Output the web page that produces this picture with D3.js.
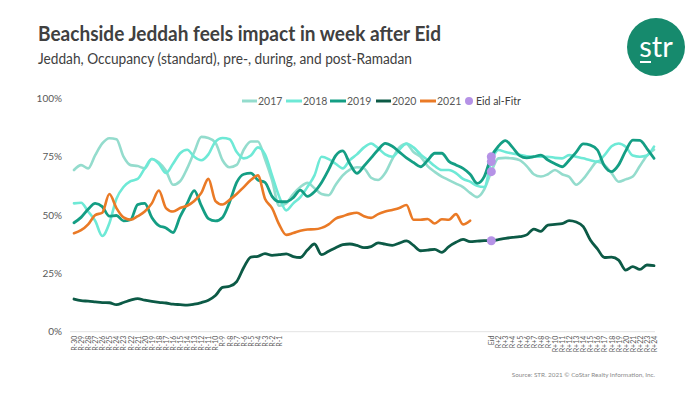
<!DOCTYPE html>
<html><head><meta charset="utf-8">
<script src="https://cdn.jsdelivr.net/npm/d3@7"></script>
<style>body{margin:0;background:#fff}svg{display:block}</style>
</head><body>
<svg id="c" width="700" height="394"></svg>
<script>
const preLabels = ["R-30","R-29","R-28","R-27","R-26","R-25","R-24","R-23","R-22","R-21","R-20","R-19","R-18","R-17","R-16","R-15","R-14","R-13","R-12","R-11","R-10","R-9","R-8","R-7","R-6","R-5","R-4","R-3","R-2","R-1"];
const ramadanDays = ["D1","D2","D3","D4","D5","D6","D7","D8","D9","D10","D11","D12","D13","D14","D15","D16","D17","D18","D19","D20","D21","D22","D23","D24","D25","D26","D27","D28","D29"];
const postLabels = ["Eid","R+2","R+3","R+4","R+5","R+6","R+7","R+8","R+9","R+10","R+11","R+12","R+13","R+14","R+15","R+16","R+17","R+18","R+19","R+20","R+21","R+22","R+23","R+24"];
const categories = preLabels.concat(ramadanDays, postLabels);
const yTicks = [0, 25, 50, 75, 100];

const s2017 = [69.3,71.4,70,75.7,80.7,82.9,82.5,75,71.4,71,70,74,72.5,69,63,64.5,70,77,83.5,83,81,73.5,70.5,71.5,78,81.5,81.5,74,65,54,
  55,59,62,63.8,61.5,59,58.5,63,67,69.5,70.5,70,66,65,68,74,79,80.5,77,75,71,68.5,66.5,65,63.5,62,59.5,57.7,61,
  68.6,74.3,74.5,74.3,73.5,71,67.5,66.5,67.5,69.3,67.5,66.4,63,65.5,69.5,72.9,71.5,68,64.3,65.3,66.5,71,75.5,78];
const s2018 = [55,55.3,51.5,47.5,41,46.5,57,62,64.5,65.5,70,74,72,68,72,76.5,78,75,73.5,76,81.5,83,82.5,77,74.3,75.5,79,76,67,58,
  52,55,57.7,62,67,75,74,72,70,73.6,76,79,80.7,78.6,76,75,78,80.7,79,76,73.6,71,69.3,69.3,68,65.5,64.3,62.5,62,
  72.9,77.9,77,76.4,75.8,75.2,75,75,75,74.5,74.3,75.7,75,74.3,73.5,72.9,75.7,79.5,80.7,79.3,75.5,75,75.5,79.3];
const s2019 = [46.7,49,52.5,55,53.6,49.5,49.8,47.5,48,54.5,55,49,45.5,44.5,42.5,49.3,55,60.5,54,48.5,47.5,49,55.5,64,67.5,68,65,64,58,55.7,
  55.7,57.5,60.7,58,60,64,69.5,75.5,77.5,72,67.9,71,74.5,78,80.7,79.5,77,74.5,72.5,70.7,73.5,76.5,76.5,73,71.5,70,67.5,63.6,66.5,
  75,79.5,81.9,79,75.5,74.5,75,75.7,73.6,72,70.7,73.5,77,80.5,80,77.9,71,68.6,71.5,77.5,82.1,82,78.5,74.3];
const s2020 = [14,13.3,13.1,12.8,12.5,12.4,11.6,12.5,13.5,14.2,13.5,13,12.6,12.3,11.8,11.6,11.4,11.8,12.5,13.5,15.5,19,19.5,21.5,27.5,32,32.3,33.5,32.7,33,
  33.4,32.2,31.8,35,37.6,33,34.5,36,37.3,37.6,37,36,36.5,38.1,37.5,37,38,38.9,37,34.7,35,35.3,34,36.5,38.3,39.6,38.6,38.8,39,
  39,39.5,40,40.4,40.7,41.5,44,43,45.7,46,46.3,47.6,47,45,39.3,35.5,31.8,32,30.7,26.4,27.9,26.7,28.6,28.3];
const s2021 = [42.2,43.5,46,50,51,59,53,49,48,49.5,51.5,55,60.5,53,51.5,53,54,56,59.5,65.5,56,54.5,56.5,59,62,65,67,57,53,46,
  41.5,42.3,43.3,43.8,43.9,44.5,46,48.5,49.5,50.5,51,49.5,48.8,50.4,51.5,52.2,53,54.3,48,48,48.3,46.4,48.2,48,50.4,46,47.6];

const seriesNames = ["2017","2018","2019","2020","2021"];
const seriesValues = [s2017, s2018, s2019, s2020, s2021];
const colors = ["#94dccd","#6ee9d6","#149e84","#0c5a46","#ea7a26"];
const eidColor = "#b592e6";

const svg = d3.select("#c");
const x = d3.scalePoint().domain(categories).range([74, 654]);
const y = d3.scaleLinear().domain([0, 100]).range([331.7, 98.4]);

// Title
svg.append("text").attr("x", 38).attr("y", 41).attr("font-family","Lato, 'Open Sans', sans-serif")
  .attr("font-weight", "bold").attr("font-size", 20).attr("fill", "#404040")
  .attr("textLength", 403).attr("lengthAdjust","spacingAndGlyphs")
  .text("Beachside Jeddah feels impact in week after Eid");
svg.append("text").attr("x", 38).attr("y", 64).attr("font-family","Lato, 'Open Sans', sans-serif")
  .attr("font-size", 14.5).attr("fill", "#404040")
  .attr("textLength", 374).attr("lengthAdjust","spacingAndGlyphs")
  .text("Jeddah, Occupancy (standard), pre-, during, and post-Ramadan");

// Logo
svg.append("circle").attr("cx", 656).attr("cy", 47).attr("r", 29).attr("fill", "#168a6d");
svg.append("text").attr("x", 656).attr("y", 57).attr("text-anchor","middle")
  .attr("font-family","Lato, 'Open Sans', sans-serif").attr("font-size", 29).attr("fill","#fff").text("str");
svg.append("rect").attr("x", 640).attr("y", 61).attr("width", 11).attr("height", 2).attr("fill","#fff");

// Y axis labels
svg.append("g").selectAll("text").data(yTicks).join("text")
  .attr("x", 62).attr("y", d => y(d)).attr("dy", "0.35em").attr("text-anchor","end")
  .attr("font-family","Lato, 'Open Sans', sans-serif").attr("font-size", 10).attr("fill","#595959")
  .text(d => d + "%");

// X axis
const xAxis = d3.axisBottom(x).tickSize(0).tickPadding(0)
  .tickFormat(d => d.startsWith("D") ? "" : d);
const gx = svg.append("g").attr("transform", `translate(0,${y(0)})`).call(xAxis);
gx.select(".domain").attr("stroke", "#e3e3e3").attr("stroke-width", 1).attr("d", "M70,0H655");
gx.selectAll("text").attr("transform", "translate(0,4) rotate(-90)").attr("text-anchor","end")
  .attr("x", 0).attr("y", 0).attr("dy", "0.35em")
  .attr("font-family","Lato, 'Open Sans', sans-serif").attr("font-size", 7).attr("fill","#595959");

// Lines
const line = d3.line().x((d, i) => x(categories[i])).y(d => y(d)).curve(d3.curveMonotoneX);
const widths = [2.6, 2.6, 2.8, 2.8, 2.6];
seriesValues.forEach((vals, k) => {
  svg.append("path").datum(vals).attr("fill","none").attr("stroke", colors[k])
    .attr("stroke-width", widths[k]).attr("stroke-linejoin","round").attr("stroke-linecap","round")
    .attr("d", line);
});

// Eid dots
const eidIdx = categories.indexOf("Eid");
[s2017, s2018, s2019, s2020].forEach(vals => {
  svg.append("circle").attr("cx", x("Eid")).attr("cy", y(vals[eidIdx])).attr("r", 4.5).attr("fill", eidColor);
});

// Legend
const legend = [
  {name:"2017", lx:242, tx:258}, {name:"2018", lx:286, tx:303}, {name:"2019", lx:330, tx:347},
  {name:"2020", lx:376, tx:392}, {name:"2021", lx:420, tx:437}
];
const lg = svg.append("g");
legend.forEach((d, k) => {
  lg.append("line").attr("x1", d.lx).attr("x2", d.tx - 1).attr("y1", 101).attr("y2", 101)
    .attr("stroke", colors[k]).attr("stroke-width", 3);
  lg.append("text").attr("x", d.tx).attr("y", 101).attr("dy","0.35em")
    .attr("font-family","Lato, 'Open Sans', sans-serif").attr("font-size", 10.5).attr("fill","#595959").text(d.name);
});
lg.append("circle").attr("cx", 469).attr("cy", 101).attr("r", 4).attr("fill", eidColor);
lg.append("text").attr("x", 476).attr("y", 101).attr("dy","0.35em")
  .attr("font-family","Lato, 'Open Sans', sans-serif").attr("font-size", 10.5).attr("fill","#404040").text("Eid al-Fitr");

// Source
svg.append("text").attr("x", 655).attr("y", 377).attr("text-anchor","end")
  .attr("font-family","Lato, 'Open Sans', sans-serif").attr("font-size", 6.3).attr("fill","#8a8a8a")
  .text("Source: STR. 2021 © CoStar Realty Information, Inc.");
</script>
</body></html>
